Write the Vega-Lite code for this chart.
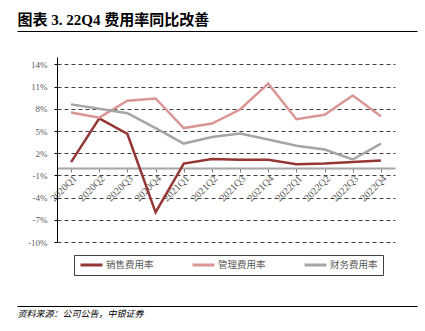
{
  "$schema": "https://vega.github.io/schema/vega-lite/v6.json",
  "background": "white",
  "padding": {"left": 17, "top": 12, "right": 8, "bottom": 4},
  "width": 338,
  "height": 185,
  "config": {"view": {"stroke": null}, "font": "Liberation Serif"},
  "datasets": {
    "rates": [
      {"q": "2020Q1", "s": "销售费用率", "v": 0.8},
      {"q": "2020Q2", "s": "销售费用率", "v": 6.7},
      {"q": "2020Q3", "s": "销售费用率", "v": 4.6},
      {"q": "2020Q4", "s": "销售费用率", "v": -6.0},
      {"q": "2021Q1", "s": "销售费用率", "v": 0.6},
      {"q": "2021Q2", "s": "销售费用率", "v": 1.2},
      {"q": "2021Q3", "s": "销售费用率", "v": 1.1},
      {"q": "2021Q4", "s": "销售费用率", "v": 1.1},
      {"q": "2022Q1", "s": "销售费用率", "v": 0.5},
      {"q": "2022Q2", "s": "销售费用率", "v": 0.6},
      {"q": "2022Q3", "s": "销售费用率", "v": 0.8},
      {"q": "2022Q4", "s": "销售费用率", "v": 1.0},
      {"q": "2020Q1", "s": "管理费用率", "v": 7.5},
      {"q": "2020Q2", "s": "管理费用率", "v": 6.8},
      {"q": "2020Q3", "s": "管理费用率", "v": 9.1},
      {"q": "2020Q4", "s": "管理费用率", "v": 9.4},
      {"q": "2021Q1", "s": "管理费用率", "v": 5.4},
      {"q": "2021Q2", "s": "管理费用率", "v": 6.0},
      {"q": "2021Q3", "s": "管理费用率", "v": 7.9},
      {"q": "2021Q4", "s": "管理费用率", "v": 11.4},
      {"q": "2022Q1", "s": "管理费用率", "v": 6.6},
      {"q": "2022Q2", "s": "管理费用率", "v": 7.2},
      {"q": "2022Q3", "s": "管理费用率", "v": 9.8},
      {"q": "2022Q4", "s": "管理费用率", "v": 7.0},
      {"q": "2020Q1", "s": "财务费用率", "v": 8.6},
      {"q": "2020Q2", "s": "财务费用率", "v": 8.0},
      {"q": "2020Q3", "s": "财务费用率", "v": 7.4},
      {"q": "2020Q4", "s": "财务费用率", "v": 5.4},
      {"q": "2021Q1", "s": "财务费用率", "v": 3.3},
      {"q": "2021Q2", "s": "财务费用率", "v": 4.2},
      {"q": "2021Q3", "s": "财务费用率", "v": 4.65},
      {"q": "2021Q4", "s": "财务费用率", "v": 3.85},
      {"q": "2022Q1", "s": "财务费用率", "v": 3.0},
      {"q": "2022Q2", "s": "财务费用率", "v": 2.5},
      {"q": "2022Q3", "s": "财务费用率", "v": 1.15},
      {"q": "2022Q4", "s": "财务费用率", "v": 3.3}
    ],
    "blank": [{"k": 0}]
  },
  "layer": [
    {
      "data": {"name": "blank"},
      "mark": {"type": "rule", "opacity": 0},
      "encoding": {
        "x": {"datum": 0, "type": "quantitative", "scale": {"domain": [0, 1], "range": [-40, 360]},
          "axis": {"orient": "top", "offset": 26, "title": "图表 3. 22Q4 费用率同比改善", "titleAnchor": "start", "titleAlign": "left", "titleBaseline": "bottom", "titlePadding": 4, "titleFont": "Liberation Serif, Noto Sans CJK SC", "titleFontSize": 15, "titleFontWeight": "bold", "titleColor": "#000000", "labels": false, "ticks": false, "grid": false, "domainColor": "#000000", "domainWidth": 1.2}}
      }
    },
    {
      "data": {"name": "blank"},
      "mark": {"type": "rule", "opacity": 0},
      "encoding": {
        "x": {"datum": 0, "type": "quantitative", "scale": {"domain": [0, 1], "range": [-40, 360]},
          "axis": {"orient": "bottom", "offset": 64, "title": "资料来源：公司公告，中银证券", "titleAnchor": "start", "titleAlign": "left", "titleBaseline": "top", "titlePadding": 3, "titleFont": "Noto Sans CJK SC", "titleFontSize": 9, "titleFontStyle": "italic", "titleFontWeight": "normal", "titleColor": "#000000", "labels": false, "ticks": false, "grid": false, "domainColor": "#000000", "domainWidth": 1.2}}
      }
    },
    {
      "data": {"name": "rates"},
      "mark": {"type": "line", "strokeWidth": 2.5},
      "encoding": {
        "x": {
          "field": "q", "type": "ordinal", "sort": null,
          "scale": {"type": "point", "padding": 0.5},
          "axis": {"title": null, "grid": false, "offset": -74, "labelAngle": -45, "labelFont": "Liberation Serif", "labelFontSize": 10, "labelColor": "#595959", "labelPadding": 1, "domainColor": "#A6A6A6", "domainWidth": 2, "tickColor": "#7F7F7F", "tickSize": 4, "tickWidth": 1}
        },
        "y": {
          "field": "v", "type": "quantitative",
          "scale": {"domain": [-10, 15], "nice": false, "zero": false},
          "axis": {"title": null, "values": [-10, -7, -4, -1, 2, 5, 8, 11, 14], "labelExpr": "datum.value + '%'", "grid": true, "gridDash": [4, 3], "gridColor": "#404040", "gridWidth": 1, "domainColor": "#000000", "tickColor": "#000000", "tickSize": 3, "labelPadding": 7, "labelFont": "Liberation Serif", "labelFontSize": 9, "labelColor": "#595959"}
        },
        "color": {
          "field": "s", "type": "nominal",
          "scale": {"domain": ["销售费用率", "管理费用率", "财务费用率"], "range": ["#943634", "#D99694", "#A5A5A5"]},
          "legend": {"orient": "none", "legendX": 17, "legendY": 198, "direction": "horizontal", "title": null, "symbolType": "stroke", "symbolSize": 484, "symbolStrokeWidth": 3, "clipHeight": 10, "labelFont": "Noto Sans CJK SC", "labelFontSize": 9.5, "labelColor": "#595959", "labelOffset": 2, "columnPadding": 37, "padding": 5, "strokeColor": "#404040", "fillColor": "white"}
        }
      }
    }
  ],
  "resolve": {"scale": {"x": "independent"}, "axis": {"x": "independent"}}
}
